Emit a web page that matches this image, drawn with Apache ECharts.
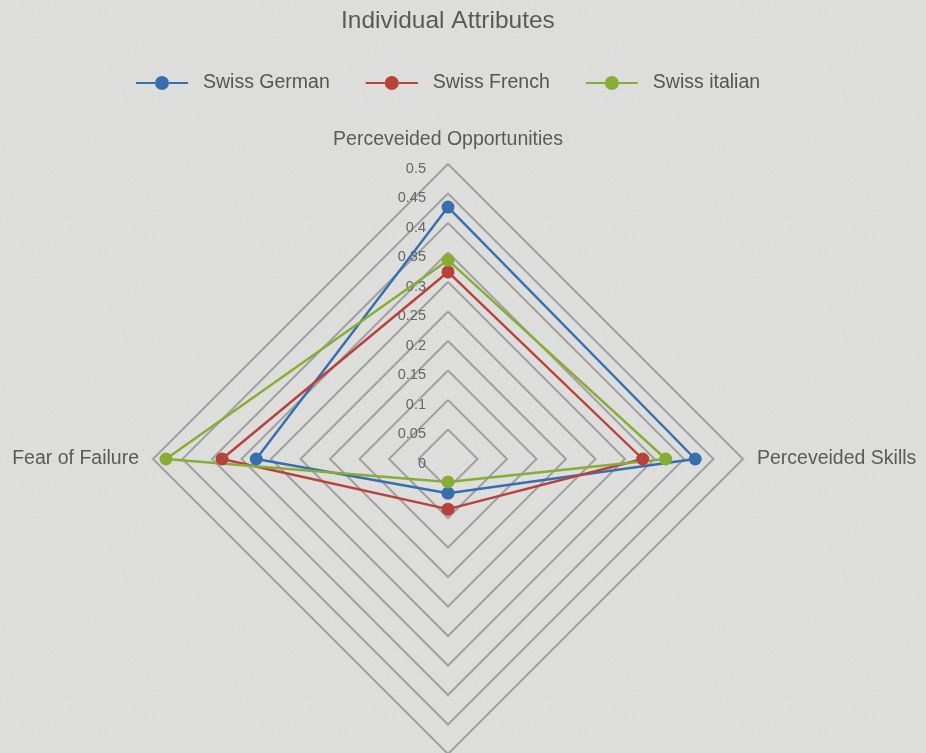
<!DOCTYPE html>
<html>
<head>
<meta charset="utf-8">
<title>Individual Attributes</title>
<script src="https://cdn.jsdelivr.net/npm/echarts@6/dist/echarts.min.js"></script>
<style>
  html, body {
    margin: 0;
    padding: 0;
    width: 926px;
    height: 753px;
    overflow: hidden;
    background-color: #e1e1e0;
    background-image: url("data:image/svg+xml;utf8,<svg xmlns='http://www.w3.org/2000/svg' width='240' height='240'><filter id='n'><feTurbulence type='fractalNoise' baseFrequency='0.85' numOctaves='3' stitchTiles='stitch'/><feColorMatrix values='0 0 0 0 0.5  0 0 0 0 0.5  0 0 0 0 0.5  0 0 0 0.2 0'/></filter><rect width='100%' height='100%' filter='url(%23n)'/></svg>");
  }
  #chart {
    width: 926px;
    height: 753px;
  }
</style>
</head>
<body>
<div id="chart"></div>
<script>
// indicators go counter-clockwise from the top: top, left, bottom, right
var indicatorNames = ['Perceveided Opportunities', 'Fear of Failure', '', 'Perceveided Skills']
var seriesNames = ['Swiss German', 'Swiss French', 'Swiss italian']
var swissGerman = [0.427, 0.325, 0.058, 0.419]
var swissFrench = [0.317, 0.383, 0.085, 0.330]
var swissItalian = [0.337, 0.478, 0.039, 0.369]
var axisMax = 0.5

var colors = ['#376fae', '#b8413b', '#87ad36']
var textFont = '"Liberation Sans", Arial, Helvetica, sans-serif'
// line with a dot in the middle, like the legend in the picture
var legendIcon = 'path://M0,6L19,6L19,8L0,8Z M33,6L52,6L52,8L33,8Z M19,7A7,7,0,1,1,33,7A7,7,0,1,1,19,7Z'

var chart = echarts.init(document.getElementById('chart'))

var indicator = indicatorNames.map(function(name, i) {
  var item = { name: name, min: 0, max: axisMax }
  if (i === 0) {
    // only the top axis carries the tick labels
    item.axisLabel = {
      show: true,
      margin: 22,
      formatter: '{v|{value}}',
      rich: {
        v: {
          fontSize: 14.5,
          color: '#666',
          fontFamily: textFont,
          padding: [9, 0, 0, 0]
        }
      }
    }
  }
  return item
})

var allData = [swissGerman, swissFrench, swissItalian]

chart.setOption({
  color: colors,
  title: {
    text: 'Individual Attributes',
    left: 336,
    top: 4,
    textStyle: {
      fontSize: 24.5,
      fontWeight: 'normal',
      color: '#5a5a5a',
      fontFamily: textFont
    }
  },
  legend: {
    data: seriesNames,
    left: 131,
    top: 68,
    icon: legendIcon,
    itemWidth: 52,
    itemHeight: 14,
    itemGap: 36,
    textStyle: {
      fontSize: 19.5,
      color: '#555',
      fontFamily: textFont,
      padding: [0, 0, 0, 10]
    }
  },
  radar: {
    center: [448, 459],
    radius: 295,
    startAngle: 90,
    shape: 'polygon',
    splitNumber: 10,
    nameGap: 14,
    axisName: {
      fontSize: 19.5,
      color: '#5a5a5a',
      fontFamily: textFont
    },
    axisLine: { show: false },
    axisTick: { show: false },
    axisLabel: { show: false },
    splitArea: { show: false },
    splitLine: {
      lineStyle: {
        color: '#a0a0a0',
        width: 2
      }
    },
    indicator: indicator
  },
  series: [{
    type: 'radar',
    symbol: 'circle',
    symbolSize: 13,
    lineStyle: { width: 2 },
    data: seriesNames.map(function(name, i) {
      return {
        name: name,
        value: allData[i],
        itemStyle: { color: colors[i] },
        lineStyle: { color: colors[i], width: 2.4 }
      }
    })
  }]
})
</script>
</body>
</html>
